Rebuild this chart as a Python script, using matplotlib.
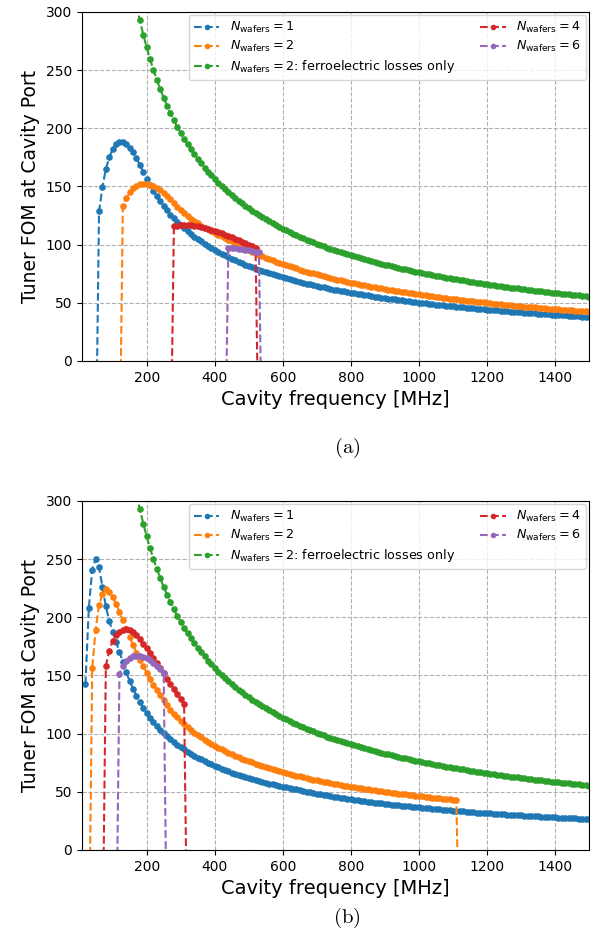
import numpy as np
import matplotlib.pyplot as plt

# frequency grid spacing of the scan [MHz]
step = 10

# ---- panel (a) ----
a_n1_start = 50
a_n1 = [-100, 128.5, 149.5, 165.0, 175.0, 182.0, 186.3, 188.2, 188.0, 186.3, 183.2, 179.2, 174.3,
        168.6, 162.6, 156.8, 151.3, 146.3, 141.6, 137.2, 133.2, 129.4, 125.9, 122.6, 119.5, 116.7,
        114.1, 111.5, 109.2, 106.9, 104.8, 102.7, 100.8, 98.9, 97.1, 95.4,
        93.8, 92.2, 90.7, 89.3, 87.9, 86.5, 85.2, 84.0, 82.8, 81.6,
        80.5, 79.4, 78.4, 77.3, 76.3, 75.4, 74.5, 73.6, 72.7, 71.8,
        71.0, 70.2, 69.4, 68.7, 67.9, 67.2, 66.5, 65.8, 65.1, 64.5,
        63.9, 63.2, 62.6, 62.0, 61.4, 60.9, 60.3, 59.8, 59.2, 58.7,
        58.2, 57.7, 57.2, 56.7, 56.3, 55.8, 55.4, 55.0, 54.5, 54.1,
        53.7, 53.3, 52.9, 52.5, 52.1, 51.7, 51.3, 50.9, 50.6, 50.2,
        49.9, 49.5, 49.2, 48.9, 48.5, 48.2, 47.9, 47.6, 47.3, 47.0,
        46.7, 46.4, 46.1, 45.8, 45.5, 45.3, 45.0, 44.7, 44.5, 44.2,
        44.0, 43.7, 43.5, 43.2, 43.0, 42.8, 42.5, 42.3, 42.0, 41.8,
        41.6, 41.4, 41.2, 41.0, 40.7, 40.5, 40.3, 40.1, 39.9, 39.7,
        39.5, 39.3, 39.1, 38.9, 38.7, 38.5, 38.3, 38.2, 38.0, 37.8]

a_n2_start = 120
a_n2 = [-100, 133.3, 140.2, 145.0, 148.3, 150.5, 151.8, 152.4, 152.2,
        151.5, 150.2, 148.6, 146.7, 144.5, 141.8, 138.8, 135.7, 132.6, 129.7,
        127.0, 124.5, 122.2, 120.1, 118.2, 116.4, 114.7, 113.1, 111.6, 110.1,
        108.6, 107.2, 105.7, 104.3, 102.9, 101.3, 99.7, 98.2, 96.7, 95.3,
        93.9, 92.6, 91.3, 90.0, 88.8, 87.7, 86.5, 85.4, 84.3, 83.3,
        82.3, 81.3, 80.4, 79.5, 78.6, 77.7, 76.8, 76.0, 75.2, 74.4,
        73.6, 72.9, 72.1, 71.4, 70.7, 70.0, 69.3, 68.7, 68.0, 67.4,
        66.8, 66.2, 65.6, 65.0, 64.5, 63.9, 63.4, 62.8, 62.3, 61.8,
        61.3, 60.8, 60.3, 59.9, 59.4, 58.9, 58.5, 58.0, 57.6, 57.2,
        56.8, 56.4, 56.0, 55.6, 55.2, 54.8, 54.4, 54.0, 53.7, 53.3,
        52.9, 52.6, 52.3, 51.9, 51.6, 51.3, 50.9, 50.6, 50.3, 50.0,
        49.7, 49.4, 49.1, 48.8, 48.5, 48.2, 47.9, 47.6, 47.4, 47.1,
        46.8, 46.6, 46.3, 46.1, 45.8, 45.6, 45.3, 45.1, 44.8, 44.6,
        44.4, 44.1, 43.9, 43.7, 43.5, 43.2, 43.0, 42.8, 42.6, 42.4]

a_n4_start = 270
a_n4 = [-100, 115.6, 116.3, 116.8, 117.0, 117.0, 116.8, 116.4, 115.9, 115.3, 114.5, 113.7,
        112.8, 111.8, 110.8, 109.7, 108.6, 107.4, 106.2, 105.0, 103.7, 102.4, 101.1,
        99.8, 98.5, 97.2, -100]

a_n6_start = 430
a_n6 = [-100, 97.0, 97.0, 96.8, 96.5, 96.1, 95.6, 95.1, 94.5, 93.9, 93.3, -100]

# ---- panel (b) ----
b_n1_start = 20
b_n1 = [142.5, 208.0, 241.0, 250.0, 243.0, 226.0, 209.5, 197.0, 187.5,
        178.8, 170.0, 161.2, 152.8, 145.3, 138.6, 132.5, 127.0, 122.0, 117.5,
        113.5, 109.9, 106.5, 103.3, 100.4, 97.7, 95.1, 92.7, 90.5, 88.4,
        86.4, 84.5, 82.7, 81.0, 79.3, 77.8, 76.3, 74.9, 73.5, 72.3,
        71.0, 69.8, 68.7, 67.6, 66.5, 65.5, 64.5, 63.6, 62.7, 61.8,
        61.0, 60.1, 59.3, 58.6, 57.8, 57.1, 56.4, 55.7, 55.0, 54.4,
        53.8, 53.2, 52.6, 52.0, 51.4, 50.8, 50.2, 49.6, 49.0, 48.5,
        47.9, 47.4, 46.9, 46.4, 45.9, 45.4, 45.0, 44.5, 44.1, 43.6,
        43.2, 42.8, 42.3, 41.9, 41.5, 41.2, 40.8, 40.4, 40.1, 39.7,
        39.4, 39.0, 38.7, 38.4, 38.1, 37.8, 37.5, 37.2, 36.9, 36.6,
        36.3, 36.0, 35.7, 35.5, 35.2, 34.9, 34.7, 34.4, 34.1, 33.9,
        33.6, 33.4, 33.2, 32.9, 32.7, 32.5, 32.2, 32.0, 31.8, 31.6,
        31.4, 31.2, 31.0, 30.8, 30.6, 30.4, 30.2, 30.0, 29.9, 29.7,
        29.5, 29.4, 29.2, 29.0, 28.8, 28.7, 28.5, 28.3, 28.2, 28.0,
        27.8, 27.7, 27.5, 27.4, 27.2, 27.1, 26.9, 26.8, 26.6, 26.5]

b_n2_start = 30
b_n2 = [-100, 156.2, 189.5, 210.3, 220.0, 224.0, 221.8, 217.6,
        211.6, 204.6, 197.3, 190.0, 182.9, 176.1, 169.6, 163.5, 157.8, 152.3,
        147.1, 142.1, 137.3, 132.8, 128.5, 124.5, 120.7, 117.2, 113.9, 110.8,
        107.9, 105.3, 102.9, 100.7, 98.6, 96.7, 94.8, 93.0, 91.3, 89.6,
        88.0, 86.5, 85.1, 83.7, 82.3, 81.0, 79.8, 78.6, 77.4, 76.3,
        75.2, 74.2, 73.2, 72.2, 71.2, 70.3, 69.4, 68.6, 67.7, 66.9,
        66.1, 65.4, 64.6, 63.9, 63.2, 62.5, 61.8, 61.2, 60.5, 59.9,
        59.3, 58.7, 58.1, 57.5, 57.0, 56.4, 55.9, 55.4, 54.9, 54.4,
        53.9, 53.4, 53.0, 52.5, 52.1, 51.7, 51.2, 50.8, 50.4, 50.0,
        49.6, 49.2, 48.8, 48.4, 48.1, 47.7, 47.3, 47.0, 46.6, 46.3,
        46.0, 45.7, 45.3, 45.0, 44.7, 44.4, 44.1, 43.9, 43.6, 43.3,
        43.0, -100]

b_n4_start = 70
b_n4 = [-100, 158.2, 171.2, 179.6, 184.6, 187.6, 189.3, 189.8, 189.0, 187.2, 184.6, 181.2,
        177.4, 173.2, 169.0, 164.9, 160.7, 156.4, 151.9, 147.3, 142.7, 138.2, 133.8,
        129.6, 125.5, -100]

b_n6_start = 110
b_n6 = [-100, 151.5, 158.5, 162.6, 165.0, 166.3, 166.8, 166.6, 165.9, 164.7, 163.0,
        160.8, 158.2, 155.2, 152.0, -100]

# ferroelectric losses only (same in both panels)
ferro_start = 170
ferro = [306.2, 292.7, 280.6, 269.5,
         259.4, 250.1, 241.5, 233.6, 226.2, 219.3, 212.9, 206.9, 201.3, 196.0,
         191.0, 186.3, 181.9, 177.7, 173.7, 169.9, 166.3, 162.8, 159.5, 156.4,
         153.4, 150.5, 147.8, 145.1, 142.6, 140.2, 137.8, 135.5, 133.4, 131.3,
         129.2, 127.3, 125.4, 123.6, 121.8, 120.1, 118.4, 116.8, 115.3, 113.8,
         112.3, 110.9, 109.5, 108.2, 106.9, 105.6, 104.3, 103.1, 101.9, 100.8,
         99.7, 98.6, 97.5, 96.5, 95.5, 94.5, 93.5, 92.6, 91.7, 90.8,
         89.9, 89.1, 88.2, 87.4, 86.6, 85.8, 85.0, 84.3, 83.5, 82.8,
         82.1, 81.4, 80.7, 80.0, 79.3, 78.7, 78.1, 77.4, 76.8, 76.2,
         75.6, 75.0, 74.5, 73.9, 73.3, 72.8, 72.3, 71.7, 71.2, 70.7,
         70.2, 69.7, 69.2, 68.7, 68.3, 67.8, 67.3, 66.9, 66.4, 66.0,
         65.6, 65.2, 64.7, 64.3, 63.9, 63.5, 63.1, 62.8, 62.4, 62.0,
         61.6, 61.3, 60.9, 60.5, 60.2, 59.8, 59.5, 59.2, 58.8, 58.5,
         58.2, 57.9, 57.5, 57.2, 56.9, 56.6, 56.3, 56.0, 55.7, 55.4]

labels = [r'$N_\mathrm{wafers} = 1$', r'$N_\mathrm{wafers} = 2$',
          r'$N_\mathrm{wafers} = 2$: ferroelectric losses only',
          r'$N_\mathrm{wafers} = 4$', r'$N_\mathrm{wafers} = 6$']


def freqs(start, vals):
    return start + step * np.arange(len(vals))


fig = plt.figure(figsize=(6, 9.42), dpi=100)
ax_a = fig.add_axes([0.1367, 0.6168, 0.845, 0.3705])
ax_b = fig.add_axes([0.1367, 0.0977, 0.845, 0.3705])

panels = [
    (ax_a, [(a_n1_start, a_n1), (a_n2_start, a_n2), (ferro_start, ferro),
            (a_n4_start, a_n4), (a_n6_start, a_n6)], '(a)', 0.5244),
    (ax_b, [(b_n1_start, b_n1), (b_n2_start, b_n2), (ferro_start, ferro),
            (b_n4_start, b_n4), (b_n6_start, b_n6)], '(b)', 0.0255),
]

for ax, curves, tag, ytag in panels:
    for (start, vals), lab in zip(curves, labels):
        ax.plot(freqs(start, vals), vals, '.--', ms=7.5, label=lab)
    ax.set_xlim(10, 1500)
    ax.set_ylim(0, 300)
    ax.grid(True, linestyle='--')
    ax.tick_params(labelsize=10)
    ax.set_xlabel('Cavity frequency [MHz]', fontsize=14)
    ax.set_ylabel('Tuner FOM at Cavity Port', fontsize=13.5)
    ax.legend(ncol=2, loc='upper right', fontsize=9.2, labelspacing=0.3,
              borderaxespad=0.25, markerscale=0.8)
    fig.text(0.578, ytag, r'$\mathrm{' + tag + '}$', ha='center', va='center',
             fontsize=15, math_fontfamily='cm')

fig.savefig('out.png', dpi=100)
